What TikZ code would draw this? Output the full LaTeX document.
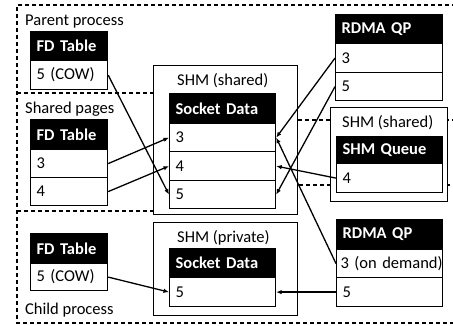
\documentclass[tikz,border=0pt]{standalone}
\usepackage{fontspec}
\setmainfont{Carlito}
\usetikzlibrary{arrows.meta}
\newcommand{\fsz}{\fontsize{16.5}{19}\selectfont}
\tikzset{
  cell/.style={draw=black, line width=1.2pt, fill=white, anchor=north west,
    inner xsep=6pt, inner ysep=0pt, align=left, font=\fsz},
  hd/.style={cell, fill=black, text=white, font=\fsz\bfseries},
  outerbox/.style={draw=black, line width=1.2pt, fill=white, anchor=north west,
    inner sep=0pt},
  lbl/.style={anchor=base west, inner sep=0pt, font=\fsz},
  region/.style={draw=black, line width=1.1pt, dash pattern=on 4pt off 3pt},
  arr/.style={draw=black, line width=1.3pt, -{Latex[length=5.5pt,width=4.5pt]}}
}
\begin{document}
\begin{tikzpicture}[x=1pt,y=-1pt]
\useasboundingbox (0,0) rectangle (453,326);
% dashed regions
\draw[region] (456,5) -- (17,5) -- (17,323) -- (456,323);
\draw[region] (17,93) -- (200,93) -- (200,120) -- (456,120);
\draw[region] (17,211) -- (200,211) -- (200,185) -- (456,185);
% region labels
\node[lbl] (lparent) at (25,26) {Parent process};
\node[lbl] (lshared) at (25,114) {Shared pages};
\node[lbl] (lchild) at (25,314) {Child process};
% outer SHM boxes
\node[outerbox, minimum width=144pt, minimum height=149pt] (shm1) at (153,65) {};
\node[lbl] (lshm1) at (177,86) {SHM (shared)};
\node[outerbox, minimum width=144pt, minimum height=93pt] (shm2) at (153,222) {};
\node[lbl] (lshm2) at (177,243) {SHM (private)};
\node[outerbox, minimum width=117pt, minimum height=94pt] (shm3) at (330,107) {};
\node[lbl] (lshm3) at (342,128) {SHM (shared)};
% FD tables
\node[hd, text width=65pt, minimum height=29pt] (fd1h) at (30,31) {FD Table};
\node[cell, text width=65pt, minimum height=29pt] (fd1r) at (30,60) {5 (COW)};
\node[hd, text width=65pt, minimum height=30pt] (fd2h) at (30,119) {FD Table};
\node[cell, text width=65pt, minimum height=28pt] (fd2r3) at (30,149) {3};
\node[cell, text width=65pt, minimum height=28pt] (fd2r4) at (30,177) {4};
\node[hd, text width=65pt, minimum height=30pt] (fd3h) at (30,233) {FD Table};
\node[cell, text width=65pt, minimum height=27pt] (fd3r) at (30,263) {5 (COW)};
% Socket data (shared)
\node[hd, text width=94pt, minimum height=30pt] (sdh) at (169,93) {Socket Data};
\node[cell, text width=94pt, minimum height=28pt] (sd3) at (169,123) {3};
\node[cell, text width=94pt, minimum height=29pt] (sd4) at (169,151) {4};
\node[cell, text width=94pt, minimum height=28pt] (sd5) at (169,180) {5};
% Socket data (private)
\node[hd, text width=94pt, minimum height=29pt] (sdph) at (169,248) {Socket Data};
\node[cell, text width=94pt, minimum height=29pt] (sdp5) at (169,277) {5};
% RDMA QP top
\node[hd, text width=95pt, minimum height=29pt] (rq1h) at (335,14) {RDMA QP};
\node[cell, text width=95pt, minimum height=29pt] (rq1r3) at (335,43) {3};
\node[cell, text width=95pt, minimum height=28pt] (rq1r5) at (335,72) {5};
% SHM Queue
\node[hd, text width=94pt, minimum height=27pt] (qh) at (336,136) {SHM Queue};
\node[cell, text width=94pt, minimum height=29pt] (qr4) at (336,163) {4};
% RDMA QP bottom
\node[hd, text width=94pt, minimum height=30pt] (rq2h) at (336,219) {RDMA QP};
\node[cell, text width=98pt, inner xsep=4pt, minimum height=28pt] (rq2r3) at (336,249) {\mbox{3 (on demand)}};
\node[cell, text width=94pt, minimum height=29pt] (rq2r5) at (336,277) {5};
% connectors
\draw[arr] (fd1r.east) -- (sd5.west);
\draw[arr] (fd2r3.east) -- (sd3.west);
\draw[arr] (fd2r4.east) -- (sd4.west);
\draw[arr] (rq1r3.west) -- (sd3.east);
\draw[arr] (rq1r5.west) -- (sd5.east);
\draw[arr] (qr4.west) -- (sd4.east);
\draw[arr] (rq2r3.west) -- (sd3.east);
\draw[arr] (rq2r5.west) -- (sdp5.east);
\draw[arr] (fd3r.east) -- (sdp5.west);
\end{tikzpicture}
\end{document}
